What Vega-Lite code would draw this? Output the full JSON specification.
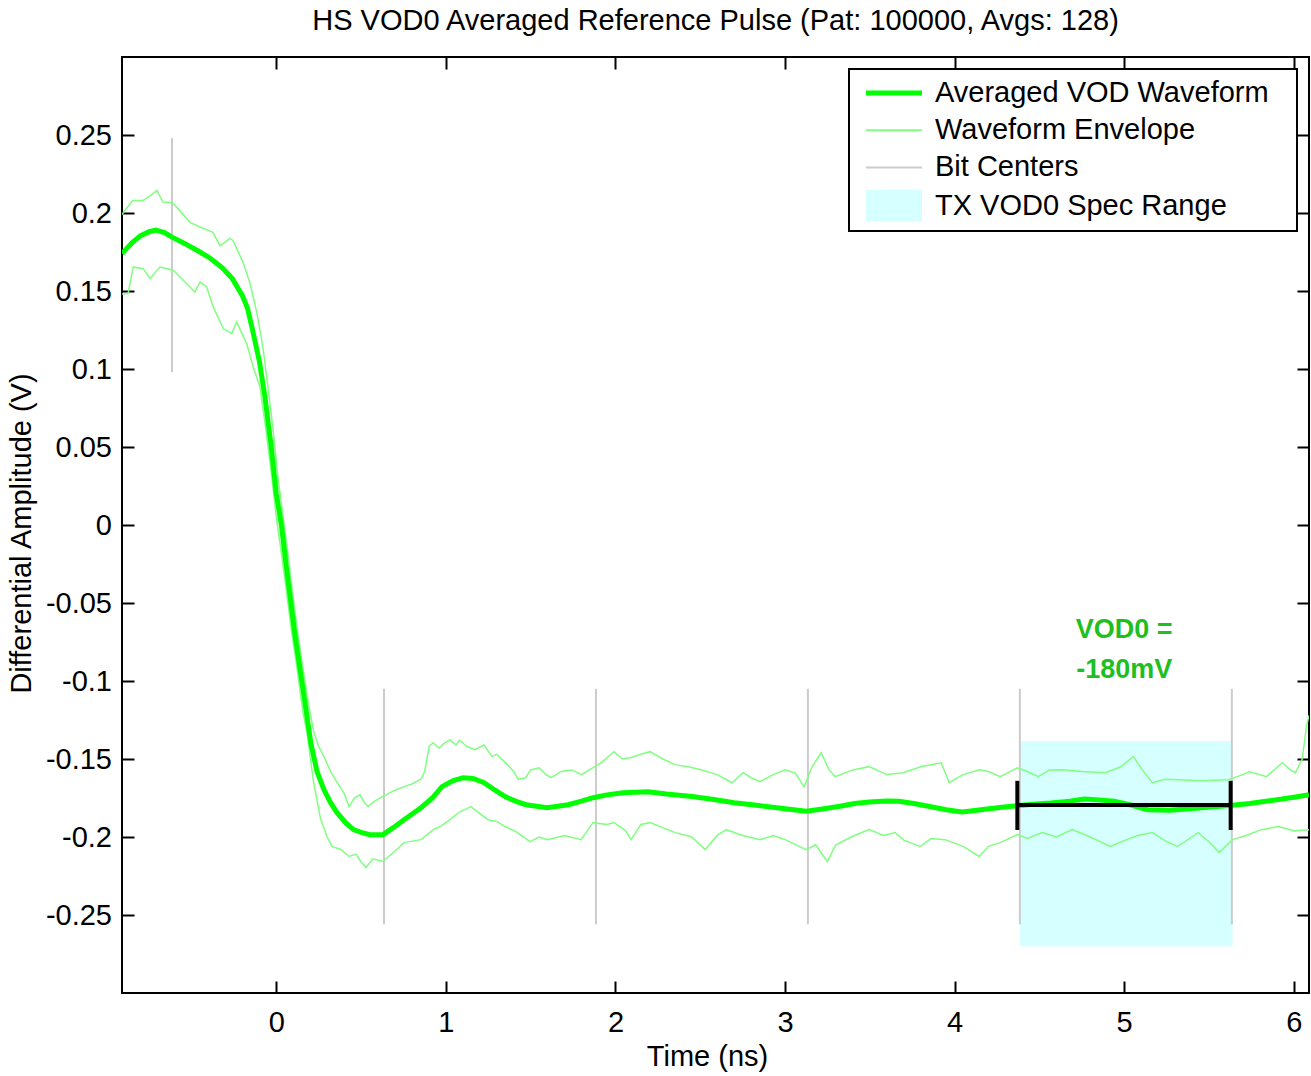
{
  "$schema": "https://vega.github.io/schema/vega-lite/v6.json",
  "width": 1187,
  "height": 936,
  "autosize": {"type": "none"},
  "padding": {"left": 122, "top": 57, "right": 2, "bottom": 83},
  "background": "white",
  "config": {
    "font": "Liberation Sans",
    "view": {"stroke": "black", "strokeWidth": 2},
    "axis": {
      "domain": false,
      "grid": false,
      "tickColor": "black",
      "tickWidth": 2,
      "tickSize": -12,
      "labelFont": "Liberation Sans",
      "labelFontSize": 29,
      "labelColor": "black",
      "titleFont": "Liberation Sans",
      "titleFontSize": 29,
      "titleFontWeight": "normal",
      "titleColor": "black"
    }
  },
  "title": {
    "text": "HS VOD0 Averaged Reference Pulse (Pat: 100000, Avgs: 128)",
    "font": "Liberation Sans",
    "fontSize": 29,
    "fontWeight": "normal",
    "color": "black",
    "anchor": "middle",
    "baseline": "bottom",
    "offset": -9
  },
  "datasets": {
    "avg": [
      {"t":-0.91,"v":0.174},{"t":-0.85,"v":0.181},{"t":-0.80,"v":0.1855},{"t":-0.75,"v":0.188},{"t":-0.71,"v":0.189},{"t":-0.66,"v":0.1875},{"t":-0.615,"v":0.1845},{"t":-0.55,"v":0.181},{"t":-0.45,"v":0.175},{"t":-0.39,"v":0.171},{"t":-0.32,"v":0.165},{"t":-0.26,"v":0.158},{"t":-0.20,"v":0.147},{"t":-0.17,"v":0.139},{"t":-0.14,"v":0.125},{"t":-0.10,"v":0.105},{"t":-0.067,"v":0.082},{"t":-0.03,"v":0.05},{"t":0.0,"v":0.02},{"t":0.03,"v":0.0},{"t":0.057,"v":-0.025},{"t":0.108,"v":-0.069},{"t":0.157,"v":-0.105},{"t":0.204,"v":-0.140},{"t":0.24,"v":-0.158},{"t":0.281,"v":-0.1697},{"t":0.32,"v":-0.178},{"t":0.358,"v":-0.1844},{"t":0.41,"v":-0.191},{"t":0.455,"v":-0.1953},{"t":0.50,"v":-0.197},{"t":0.552,"v":-0.1985},{"t":0.629,"v":-0.1985},{"t":0.69,"v":-0.194},{"t":0.753,"v":-0.1889},{"t":0.853,"v":-0.1812},{"t":0.92,"v":-0.175},{"t":0.977,"v":-0.1677},{"t":1.04,"v":-0.164},{"t":1.101,"v":-0.162},{"t":1.16,"v":-0.1625},{"t":1.225,"v":-0.1652},{"t":1.29,"v":-0.170},{"t":1.349,"v":-0.1741},{"t":1.41,"v":-0.177},{"t":1.473,"v":-0.1793},{"t":1.597,"v":-0.1812},{"t":1.721,"v":-0.1793},{"t":1.80,"v":-0.177},{"t":1.868,"v":-0.1748},{"t":1.95,"v":-0.173},{"t":2.045,"v":-0.1716},{"t":2.192,"v":-0.171},{"t":2.30,"v":-0.1725},{"t":2.452,"v":-0.174},{"t":2.58,"v":-0.176},{"t":2.70,"v":-0.178},{"t":2.82,"v":-0.1795},{"t":2.951,"v":-0.1812},{"t":3.05,"v":-0.1825},{"t":3.125,"v":-0.1835},{"t":3.22,"v":-0.182},{"t":3.324,"v":-0.1803},{"t":3.41,"v":-0.1785},{"t":3.496,"v":-0.1775},{"t":3.60,"v":-0.177},{"t":3.672,"v":-0.1771},{"t":3.76,"v":-0.1785},{"t":3.845,"v":-0.1803},{"t":3.95,"v":-0.1825},{"t":4.045,"v":-0.1839},{"t":4.12,"v":-0.183},{"t":4.192,"v":-0.182},{"t":4.28,"v":-0.181},{"t":4.368,"v":-0.1799},{"t":4.46,"v":-0.179},{"t":4.567,"v":-0.1782},{"t":4.68,"v":-0.177},{"t":4.765,"v":-0.1756},{"t":4.85,"v":-0.1762},{"t":4.94,"v":-0.1771},{"t":5.04,"v":-0.1795},{"t":5.139,"v":-0.1825},{"t":5.263,"v":-0.1829},{"t":5.35,"v":-0.1822},{"t":5.437,"v":-0.1814},{"t":5.55,"v":-0.1805},{"t":5.637,"v":-0.1797},{"t":5.74,"v":-0.1785},{"t":5.836,"v":-0.1771},{"t":5.93,"v":-0.1757},{"t":6.01,"v":-0.1743},{"t":6.09,"v":-0.1729}
    ],
    "env": [
      {"side":"upper","t":-0.91,"v":0.199},{"side":"upper","t":-0.893,"v":0.2017},{"side":"upper","t":-0.846,"v":0.208},{"side":"upper","t":-0.787,"v":0.208},{"side":"upper","t":-0.745,"v":0.211},{"side":"upper","t":-0.704,"v":0.2145},{"side":"upper","t":-0.669,"v":0.207},{"side":"upper","t":-0.616,"v":0.2068},{"side":"upper","t":-0.586,"v":0.2036},{"side":"upper","t":-0.509,"v":0.194},{"side":"upper","t":-0.45,"v":0.191},{"side":"upper","t":-0.374,"v":0.1876},{"side":"upper","t":-0.332,"v":0.179},{"side":"upper","t":-0.273,"v":0.1837},{"side":"upper","t":-0.256,"v":0.1824},{"side":"upper","t":-0.197,"v":0.1687},{"side":"upper","t":-0.155,"v":0.155},{"side":"upper","t":-0.114,"v":0.1357},{"side":"upper","t":-0.079,"v":0.114},{"side":"upper","t":-0.049,"v":0.0883},{"side":"upper","t":-0.02,"v":0.062},{"side":"upper","t":0.01,"v":0.03},{"side":"upper","t":0.04,"v":0.005},{"side":"upper","t":0.07,"v":-0.02},{"side":"upper","t":0.10,"v":-0.047},{"side":"upper","t":0.13,"v":-0.072},{"side":"upper","t":0.157,"v":-0.092},{"side":"upper","t":0.19,"v":-0.115},{"side":"upper","t":0.22,"v":-0.132},{"side":"upper","t":0.25,"v":-0.142},{"side":"upper","t":0.281,"v":-0.1485},{"side":"upper","t":0.32,"v":-0.158},{"side":"upper","t":0.358,"v":-0.165},{"side":"upper","t":0.40,"v":-0.172},{"side":"upper","t":0.429,"v":-0.1805},{"side":"upper","t":0.46,"v":-0.175},{"side":"upper","t":0.493,"v":-0.173},{"side":"upper","t":0.52,"v":-0.178},{"side":"upper","t":0.541,"v":-0.1805},{"side":"upper","t":0.58,"v":-0.177},{"side":"upper","t":0.629,"v":-0.174},{"side":"upper","t":0.70,"v":-0.170},{"side":"upper","t":0.753,"v":-0.1677},{"side":"upper","t":0.80,"v":-0.166},{"side":"upper","t":0.853,"v":-0.163},{"side":"upper","t":0.875,"v":-0.158},{"side":"upper","t":0.901,"v":-0.142},{"side":"upper","t":0.924,"v":-0.1396},{"side":"upper","t":0.96,"v":-0.143},{"side":"upper","t":0.99,"v":-0.140},{"side":"upper","t":1.024,"v":-0.1376},{"side":"upper","t":1.06,"v":-0.141},{"side":"upper","t":1.08,"v":-0.138},{"side":"upper","t":1.125,"v":-0.142},{"side":"upper","t":1.17,"v":-0.144},{"side":"upper","t":1.225,"v":-0.141},{"side":"upper","t":1.272,"v":-0.1485},{"side":"upper","t":1.30,"v":-0.147},{"side":"upper","t":1.349,"v":-0.152},{"side":"upper","t":1.40,"v":-0.158},{"side":"upper","t":1.426,"v":-0.163},{"side":"upper","t":1.47,"v":-0.162},{"side":"upper","t":1.50,"v":-0.157},{"side":"upper","t":1.549,"v":-0.1556},{"side":"upper","t":1.59,"v":-0.160},{"side":"upper","t":1.62,"v":-0.162},{"side":"upper","t":1.68,"v":-0.158},{"side":"upper","t":1.744,"v":-0.157},{"side":"upper","t":1.80,"v":-0.160},{"side":"upper","t":1.868,"v":-0.1556},{"side":"upper","t":1.92,"v":-0.152},{"side":"upper","t":1.992,"v":-0.1453},{"side":"upper","t":2.04,"v":-0.150},{"side":"upper","t":2.092,"v":-0.149},{"side":"upper","t":2.15,"v":-0.147},{"side":"upper","t":2.204,"v":-0.1453},{"side":"upper","t":2.28,"v":-0.150},{"side":"upper","t":2.352,"v":-0.1536},{"side":"upper","t":2.43,"v":-0.155},{"side":"upper","t":2.505,"v":-0.1569},{"side":"upper","t":2.60,"v":-0.160},{"side":"upper","t":2.688,"v":-0.1652},{"side":"upper","t":2.753,"v":-0.1588},{"side":"upper","t":2.80,"v":-0.162},{"side":"upper","t":2.853,"v":-0.1645},{"side":"upper","t":2.93,"v":-0.160},{"side":"upper","t":3.001,"v":-0.1569},{"side":"upper","t":3.06,"v":-0.159},{"side":"upper","t":3.113,"v":-0.1677},{"side":"upper","t":3.16,"v":-0.155},{"side":"upper","t":3.213,"v":-0.146},{"side":"upper","t":3.26,"v":-0.157},{"side":"upper","t":3.296,"v":-0.1613},{"side":"upper","t":3.40,"v":-0.157},{"side":"upper","t":3.496,"v":-0.1549},{"side":"upper","t":3.60,"v":-0.160},{"side":"upper","t":3.697,"v":-0.1588},{"side":"upper","t":3.80,"v":-0.155},{"side":"upper","t":3.921,"v":-0.1524},{"side":"upper","t":3.968,"v":-0.1652},{"side":"upper","t":4.05,"v":-0.160},{"side":"upper","t":4.145,"v":-0.1569},{"side":"upper","t":4.20,"v":-0.158},{"side":"upper","t":4.269,"v":-0.1613},{"side":"upper","t":4.37,"v":-0.1556},{"side":"upper","t":4.43,"v":-0.158},{"side":"upper","t":4.493,"v":-0.1613},{"side":"upper","t":4.56,"v":-0.157},{"side":"upper","t":4.641,"v":-0.1569},{"side":"upper","t":4.75,"v":-0.158},{"side":"upper","t":4.889,"v":-0.1588},{"side":"upper","t":4.98,"v":-0.155},{"side":"upper","t":5.054,"v":-0.1485},{"side":"upper","t":5.10,"v":-0.156},{"side":"upper","t":5.166,"v":-0.1652},{"side":"upper","t":5.24,"v":-0.163},{"side":"upper","t":5.314,"v":-0.1633},{"side":"upper","t":5.45,"v":-0.164},{"side":"upper","t":5.614,"v":-0.1633},{"side":"upper","t":5.70,"v":-0.160},{"side":"upper","t":5.738,"v":-0.1581},{"side":"upper","t":5.839,"v":-0.1613},{"side":"upper","t":5.933,"v":-0.1524},{"side":"upper","t":5.98,"v":-0.157},{"side":"upper","t":6.01,"v":-0.1588},{"side":"upper","t":6.05,"v":-0.150},{"side":"upper","t":6.075,"v":-0.1293},{"side":"upper","t":6.09,"v":-0.122},
      {"side":"lower","t":-0.91,"v":0.148},{"side":"lower","t":-0.874,"v":0.1483},{"side":"lower","t":-0.844,"v":0.1654},{"side":"lower","t":-0.785,"v":0.1643},{"side":"lower","t":-0.745,"v":0.158},{"side":"lower","t":-0.686,"v":0.1654},{"side":"lower","t":-0.608,"v":0.1633},{"side":"lower","t":-0.568,"v":0.159},{"side":"lower","t":-0.48,"v":0.1494},{"side":"lower","t":-0.45,"v":0.1558},{"side":"lower","t":-0.411,"v":0.1526},{"side":"lower","t":-0.372,"v":0.1398},{"side":"lower","t":-0.313,"v":0.1259},{"side":"lower","t":-0.263,"v":0.1227},{"side":"lower","t":-0.234,"v":0.1302},{"side":"lower","t":-0.175,"v":0.1163},{"side":"lower","t":-0.136,"v":0.1013},{"side":"lower","t":-0.0965,"v":0.0885},{"side":"lower","t":-0.06,"v":0.06},{"side":"lower","t":-0.03,"v":0.034},{"side":"lower","t":0.0,"v":0.005},{"side":"lower","t":0.03,"v":-0.018},{"side":"lower","t":0.057,"v":-0.04},{"side":"lower","t":0.09,"v":-0.068},{"side":"lower","t":0.12,"v":-0.09},{"side":"lower","t":0.157,"v":-0.12},{"side":"lower","t":0.181,"v":-0.133},{"side":"lower","t":0.22,"v":-0.165},{"side":"lower","t":0.26,"v":-0.188},{"side":"lower","t":0.30,"v":-0.200},{"side":"lower","t":0.328,"v":-0.206},{"side":"lower","t":0.38,"v":-0.208},{"side":"lower","t":0.429,"v":-0.2125},{"side":"lower","t":0.47,"v":-0.211},{"side":"lower","t":0.50,"v":-0.216},{"side":"lower","t":0.529,"v":-0.2196},{"side":"lower","t":0.57,"v":-0.214},{"side":"lower","t":0.629,"v":-0.2157},{"side":"lower","t":0.70,"v":-0.209},{"side":"lower","t":0.753,"v":-0.2036},{"side":"lower","t":0.853,"v":-0.2017},{"side":"lower","t":0.93,"v":-0.195},{"side":"lower","t":0.97,"v":-0.193},{"side":"lower","t":1.024,"v":-0.1889},{"side":"lower","t":1.08,"v":-0.184},{"side":"lower","t":1.148,"v":-0.1805},{"side":"lower","t":1.20,"v":-0.185},{"side":"lower","t":1.249,"v":-0.1889},{"side":"lower","t":1.30,"v":-0.190},{"side":"lower","t":1.349,"v":-0.1933},{"side":"lower","t":1.42,"v":-0.197},{"side":"lower","t":1.496,"v":-0.203},{"side":"lower","t":1.55,"v":-0.200},{"side":"lower","t":1.597,"v":-0.2017},{"side":"lower","t":1.70,"v":-0.199},{"side":"lower","t":1.797,"v":-0.2017},{"side":"lower","t":1.868,"v":-0.1908},{"side":"lower","t":1.95,"v":-0.192},{"side":"lower","t":1.992,"v":-0.1908},{"side":"lower","t":2.06,"v":-0.196},{"side":"lower","t":2.092,"v":-0.2017},{"side":"lower","t":2.15,"v":-0.192},{"side":"lower","t":2.204,"v":-0.1908},{"side":"lower","t":2.352,"v":-0.1972},{"side":"lower","t":2.45,"v":-0.200},{"side":"lower","t":2.529,"v":-0.2081},{"side":"lower","t":2.60,"v":-0.199},{"side":"lower","t":2.653,"v":-0.1953},{"side":"lower","t":2.75,"v":-0.199},{"side":"lower","t":2.853,"v":-0.2017},{"side":"lower","t":2.93,"v":-0.199},{"side":"lower","t":3.001,"v":-0.2017},{"side":"lower","t":3.125,"v":-0.2081},{"side":"lower","t":3.18,"v":-0.205},{"side":"lower","t":3.249,"v":-0.2157},{"side":"lower","t":3.30,"v":-0.205},{"side":"lower","t":3.396,"v":-0.1997},{"side":"lower","t":3.496,"v":-0.1953},{"side":"lower","t":3.58,"v":-0.199},{"side":"lower","t":3.65,"v":-0.1972},{"side":"lower","t":3.70,"v":-0.202},{"side":"lower","t":3.797,"v":-0.2061},{"side":"lower","t":3.86,"v":-0.201},{"side":"lower","t":3.945,"v":-0.2017},{"side":"lower","t":4.05,"v":-0.206},{"side":"lower","t":4.145,"v":-0.2125},{"side":"lower","t":4.20,"v":-0.206},{"side":"lower","t":4.269,"v":-0.2036},{"side":"lower","t":4.37,"v":-0.1985},{"side":"lower","t":4.43,"v":-0.201},{"side":"lower","t":4.517,"v":-0.1972},{"side":"lower","t":4.60,"v":-0.200},{"side":"lower","t":4.694,"v":-0.1953},{"side":"lower","t":4.80,"v":-0.200},{"side":"lower","t":4.918,"v":-0.2061},{"side":"lower","t":5.013,"v":-0.2017},{"side":"lower","t":5.08,"v":-0.199},{"side":"lower","t":5.166,"v":-0.1972},{"side":"lower","t":5.25,"v":-0.203},{"side":"lower","t":5.314,"v":-0.2061},{"side":"lower","t":5.437,"v":-0.1972},{"side":"lower","t":5.50,"v":-0.203},{"side":"lower","t":5.561,"v":-0.21},{"side":"lower","t":5.638,"v":-0.2017},{"side":"lower","t":5.72,"v":-0.199},{"side":"lower","t":5.809,"v":-0.1953},{"side":"lower","t":5.909,"v":-0.1933},{"side":"lower","t":6.00,"v":-0.196},{"side":"lower","t":6.09,"v":-0.1953}
    ]
  },
  "layer": [
    {
      "data": {"values": [{"t1": 4.385, "t2": 5.64, "v1": -0.1385, "v2": -0.27}]},
      "mark": {"type": "rect"},
      "encoding": {
        "x": {
          "field": "t1", "type": "quantitative",
          "scale": {"domain": [-0.91, 6.09], "nice": false, "zero": false},
          "axis": {"orient": "bottom", "values": [0, 1, 2, 3, 4, 5, 6], "title": "Time (ns)", "labelPadding": 27, "titlePadding": 5, "titleX": 585}
        },
        "x2": {"field": "t2"},
        "y": {
          "field": "v1", "type": "quantitative",
          "scale": {"domain": [-0.3, 0.3], "nice": false, "zero": false},
          "axis": {"orient": "left", "values": [-0.25, -0.2, -0.15, -0.1, -0.05, 0, 0.05, 0.1, 0.15, 0.2, 0.25], "labelExpr": "toString(datum.value)", "title": "Differential Amplitude (V)", "labelPadding": 22.5, "titlePadding": 9, "titleY": 476}
        },
        "y2": {"field": "v2"},
        "color": {
          "datum": "TX VOD0 Spec Range",
          "scale": {
            "domain": ["Averaged VOD Waveform", "Waveform Envelope", "Bit Centers", "TX VOD0 Spec Range"],
            "range": ["#00ff00", "#80ff80", "#cccccc", "#d6ffff"]
          },
          "legend": {
            "title": null,
            "orient": "top-right",
            "offset": 12,
            "padding": 8.7,
            "rowPadding": 6.2,
            "strokeColor": "black",
            "fillColor": "white",
            "labelFont": "Liberation Sans",
            "labelFontSize": 29,
            "labelColor": "black",
            "labelLimit": 1000,
            "encode": {
              "legend": {
                "update": {
                  "strokeWidth": {"value": 2}
                }
              },
              "symbols": {
                "update": {
                  "shape": {"signal": "datum.value === 'TX VOD0 Spec Range' ? 'M-1,-0.564H1V0.564H-1ZM13.7,0' : 'M-1,0H1M13.7,0'"},
                  "size": {"value": 3136},
                  "strokeWidth": {"signal": "datum.value === 'Averaged VOD Waveform' ? 5 : (datum.value === 'TX VOD0 Spec Range' ? 0 : 2)"},
                  "stroke": {"signal": "datum.value === 'Averaged VOD Waveform' ? '#00ff00' : (datum.value === 'Waveform Envelope' ? '#80ff80' : (datum.value === 'Bit Centers' ? '#cccccc' : 'transparent'))"},
                  "fill": {"signal": "datum.value === 'TX VOD0 Spec Range' ? '#d6ffff' : 'transparent'"},
                  "opacity": {"value": 1},
                  "x": {"value": 36.3},
                  "y": {"value": 15.3}
                }
              },
              "labels": {
                "update": {
                  "x": {"value": 77.3},
                  "y": {"value": 15.3}
                }
              }
            }
          }
        }
      }
    },
    {
      "data": {"values": [
        {"t": -0.615, "v1": 0.098, "v2": 0.248},
        {"t": 0.635, "v1": -0.105, "v2": -0.256},
        {"t": 1.885, "v1": -0.105, "v2": -0.256},
        {"t": 3.135, "v1": -0.105, "v2": -0.256},
        {"t": 4.385, "v1": -0.105, "v2": -0.256},
        {"t": 5.635, "v1": -0.105, "v2": -0.256}
      ]},
      "mark": {"type": "rule", "strokeWidth": 2},
      "encoding": {
        "x": {"field": "t", "type": "quantitative", "axis": {"orient": "top", "values": [0, 1, 2, 3, 4, 5, 6], "labels": false, "title": null}},
        "y": {"field": "v1", "type": "quantitative", "axis": {"orient": "right", "values": [-0.25, -0.2, -0.15, -0.1, -0.05, 0, 0.05, 0.1, 0.15, 0.2, 0.25], "labels": false, "title": null}},
        "y2": {"field": "v2"},
        "color": {"datum": "Bit Centers"}
      }
    },
    {
      "data": {"name": "env"},
      "mark": {"type": "line", "strokeWidth": 1.5, "clip": true},
      "encoding": {
        "x": {"field": "t", "type": "quantitative", "axis": null},
        "y": {"field": "v", "type": "quantitative", "axis": null},
        "detail": {"field": "side"},
        "color": {"datum": "Waveform Envelope"}
      }
    },
    {
      "data": {"name": "avg"},
      "mark": {"type": "line", "strokeWidth": 5, "clip": true},
      "encoding": {
        "x": {"field": "t", "type": "quantitative", "axis": null},
        "y": {"field": "v", "type": "quantitative", "axis": null},
        "color": {"datum": "Averaged VOD Waveform"}
      }
    },
    {
      "data": {"values": [{"t1": 4.37, "t2": 5.628, "v": -0.1795}]},
      "mark": {"type": "rule", "strokeWidth": 4, "color": "black"},
      "encoding": {
        "x": {"field": "t1", "type": "quantitative", "axis": null},
        "x2": {"field": "t2"},
        "y": {"field": "v", "type": "quantitative", "axis": null}
      }
    },
    {
      "data": {"values": [{"t": 4.37, "v1": -0.164, "v2": -0.1955}, {"t": 5.628, "v1": -0.164, "v2": -0.1955}]},
      "mark": {"type": "rule", "strokeWidth": 4, "color": "black"},
      "encoding": {
        "x": {"field": "t", "type": "quantitative", "axis": null},
        "y": {"field": "v1", "type": "quantitative", "axis": null},
        "y2": {"field": "v2"}
      }
    },
    {
      "data": {"values": [{"t": 5.0, "v": -0.0676, "label": "VOD0 ="}, {"t": 5.0, "v": -0.093, "label": "-180mV"}]},
      "mark": {"type": "text", "font": "Liberation Sans", "fontSize": 27, "fontWeight": "bold", "color": "#1fbf1f", "align": "center", "baseline": "middle"},
      "encoding": {
        "x": {"field": "t", "type": "quantitative", "axis": null},
        "y": {"field": "v", "type": "quantitative", "axis": null},
        "text": {"field": "label"}
      }
    }
  ]
}
